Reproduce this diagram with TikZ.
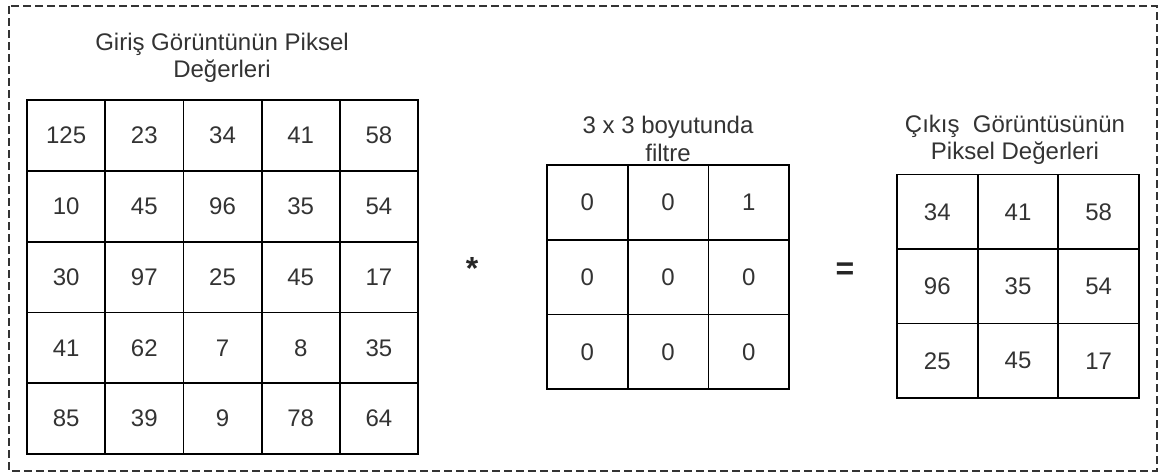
\documentclass[tikz,border=0pt]{standalone}
\usepackage{fontspec}
\setmainfont{Liberation Sans}
\usepackage{xcolor}
\usepackage{tikz}
\usetikzlibrary{positioning}
\definecolor{txtgray}{HTML}{333333}
\tikzset{
  frame/.style={draw=black!80,line width=0.7pt,dash pattern=on 4pt off 2pt},
  incell/.style={draw=black,line width=0.9pt,minimum width=39.1pt,minimum height=35.4pt,inner sep=0pt,
    text=txtgray,font=\fontsize{12}{14}\selectfont},
  flcell/.style={incell,minimum width=40.35pt,minimum height=37.35pt},
  outcell/.style={incell,minimum width=40.35pt,minimum height=37.25pt},
  ttl/.style={align=center,text=txtgray,font=\fontsize{12}{13.6}\selectfont,inner sep=0pt},
  opsym/.style={text=black!85,font=\fontsize{16}{18}\selectfont\bfseries,inner sep=0pt},
}

\begin{document}
\begin{tikzpicture}[x=0.5pt,y=-0.5pt]
  \useasboundingbox (0,0) rectangle (1160,472);
  \draw[frame] (9,6) rectangle (1157,471);
  % input image
  \node[ttl] (tIn) at (222,58) {Giriş Görüntünün Piksel\\Değerleri};
  \node[incell] (a11) at (66.1,135.4) {125};
  \node[incell] (a12) at (144.3,135.4) {23};
  \node[incell] (a13) at (222.5,135.4) {34};
  \node[incell] (a14) at (300.7,135.4) {41};
  \node[incell] (a15) at (378.9,135.4) {58};
  \node[incell] (a21) at (66.1,206.2) {10};
  \node[incell] (a22) at (144.3,206.2) {45};
  \node[incell] (a23) at (222.5,206.2) {96};
  \node[incell] (a24) at (300.7,206.2) {35};
  \node[incell] (a25) at (378.9,206.2) {54};
  \node[incell] (a31) at (66.1,277) {30};
  \node[incell] (a32) at (144.3,277) {97};
  \node[incell] (a33) at (222.5,277) {25};
  \node[incell] (a34) at (300.7,277) {45};
  \node[incell] (a35) at (378.9,277) {17};
  \node[incell] (a41) at (66.1,347.8) {41};
  \node[incell] (a42) at (144.3,347.8) {62};
  \node[incell] (a43) at (222.5,347.8) {7};
  \node[incell] (a44) at (300.7,347.8) {8};
  \node[incell] (a45) at (378.9,347.8) {35};
  \node[incell] (a51) at (66.1,418.6) {85};
  \node[incell] (a52) at (144.3,418.6) {39};
  \node[incell] (a53) at (222.5,418.6) {9};
  \node[incell] (a54) at (300.7,418.6) {78};
  \node[incell] (a55) at (378.9,418.6) {64};
  \node[opsym] (conv) at (472,268) {*};
  % filter
  \node[ttl] (tFl) at (668,139) {3 x 3 boyutunda\\filtre};
  \node[flcell] (f11) at (587.35,202.35) {0};
  \node[flcell] (f12) at (668.05,202.35) {0};
  \node[flcell] (f13) at (748.75,202.35) {1};
  \node[flcell] (f21) at (587.35,277.05) {0};
  \node[flcell] (f22) at (668.05,277.05) {0};
  \node[flcell] (f23) at (748.75,277.05) {0};
  \node[flcell] (f31) at (587.35,351.75) {0};
  \node[flcell] (f32) at (668.05,351.75) {0};
  \node[flcell] (f33) at (748.75,351.75) {0};
  \node[opsym] (eq) at (845,271) {=};
  % output image
  \node[ttl] (tOut) at (1015,140) {Çıkış~ Görüntüsünün\\Piksel Değerleri};
  \node[outcell] (b11) at (937.3,211.75) {34};
  \node[outcell] (b12) at (1018,211.75) {41};
  \node[outcell] (b13) at (1098.7,211.75) {58};
  \node[outcell] (b21) at (937.3,286.25) {96};
  \node[outcell] (b22) at (1018,286.25) {35};
  \node[outcell] (b23) at (1098.7,286.25) {54};
  \node[outcell] (b31) at (937.3,360.75) {25};
  \node[outcell] (b32) at (1018,360.75) {45};
  \node[outcell] (b33) at (1098.7,360.75) {17};
\end{tikzpicture}
\end{document}
